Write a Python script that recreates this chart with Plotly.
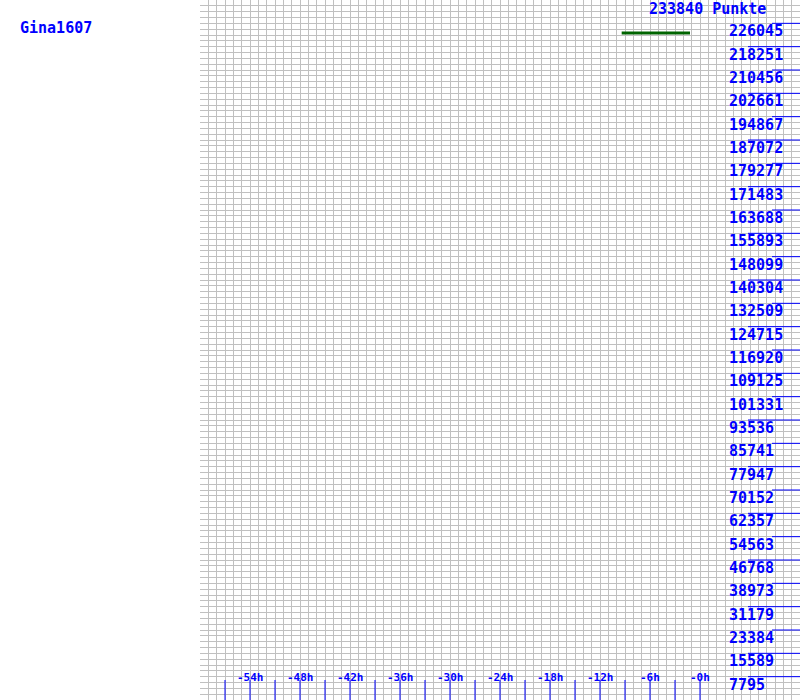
import plotly.graph_objects as go

# ---- data ----
title_name = "Gina1607"
top_value = 233840
y_labels = ["7795", "15589", "23384", "31179", "38973", "46768", "54563", "62357",
            "70152", "77947", "85741", "93536", "101331", "109125", "116920", "124715",
            "132509", "140304", "148099", "155893", "163688", "171483", "179277", "187072",
            "194867", "202661", "210456", "218251", "226045"]
x_tick_labels = ["-54h", "-48h", "-42h", "-36h", "-30h", "-24h", "-18h", "-12h", "-6h", "-0h"]
x_label_pos = [-54, -48, -42, -36, -30, -24, -18, -12, -6, 0]
x_minor_ticks = [-57, -54, -51, -48, -45, -42, -39, -36, -33, -30, -27, -24, -21, -18,
                 -15, -12, -9, -6, -3, 0]
series_x = [-9.4, -1.2]
series_y = [222800, 222800]

X_MIN, X_MAX = -60, 12
BLUE = "#0000FF"
FONT = "DejaVu Sans Mono"

fig = go.Figure()

# bottom tick marks
tx, ty = [], []
tick_top = top_value * 20 / 700
for t in x_minor_ticks:
    tx += [t, t, None]
    ty += [0, tick_top, None]
fig.add_trace(go.Scatter(x=tx, y=ty, mode="lines", line=dict(color=BLUE, width=1),
                         hoverinfo="skip", showlegend=False))

# right-side horizontal level lines
hx, hy = [], []
for i, lab in enumerate(y_labels):
    v = float(lab)
    k = i + 1
    start = 5.76 if (k % 2 == 0 or k == 1) else 8.64
    hx += [start, X_MAX, None]
    hy += [v, v, None]
fig.add_trace(go.Scatter(x=hx, y=hy, mode="lines", line=dict(color=BLUE, width=1),
                         hoverinfo="skip", showlegend=False))

# series
fig.add_trace(go.Scatter(x=series_x, y=series_y, mode="lines",
                         line=dict(color="#006400", width=3), showlegend=False))

ann = []
for lab in y_labels:
    ann.append(dict(x=727 / 800, xref="paper", y=float(lab), yref="y", text=f"<b>{lab}</b>",
                    showarrow=False, xanchor="left", yanchor="middle", yshift=-8,
                    font=dict(family=FONT, size=15, color=BLUE)))
for lab, p in zip(x_tick_labels, x_label_pos):
    ann.append(dict(x=p, xref="x", y=(700 - 677) / 700, yref="paper", text=f"<b>{lab}</b>",
                    showarrow=False, xanchor="center", yanchor="middle",
                    font=dict(family=FONT, size=11, color=BLUE)))
ann.append(dict(x=647 / 800, xref="paper", y=1, yref="paper",
                text=f"<b>{top_value} Punkte</b>", showarrow=False, xanchor="left", yanchor="top",
                yshift=2, font=dict(family=FONT, size=15, color=BLUE)))
ann.append(dict(x=18 / 800, xref="paper", y=(700 - 28) / 700, yref="paper",
                text=f"<b>{title_name}</b>", showarrow=False, xanchor="left", yanchor="middle",
                font=dict(family=FONT, size=15, color=BLUE)))

fig.update_layout(
    width=800, height=700, margin=dict(l=0, r=0, t=0, b=0),
    paper_bgcolor="white", plot_bgcolor="white",
    xaxis=dict(domain=[0.25, 1], range=[X_MIN, X_MAX], tick0=X_MIN, dtick=1,
               showgrid=True, gridcolor="#C0C0C0", gridwidth=1, zeroline=False,
               showticklabels=False, ticks="", showline=False, fixedrange=True),
    yaxis=dict(range=[0, top_value], tick0=0, dtick=top_value / 120,
               showgrid=True, gridcolor="#C0C0C0", gridwidth=1, zeroline=False,
               showticklabels=False, ticks="", showline=False, fixedrange=True),
    annotations=ann,
    showlegend=False,
)

fig.write_html("out.html")
